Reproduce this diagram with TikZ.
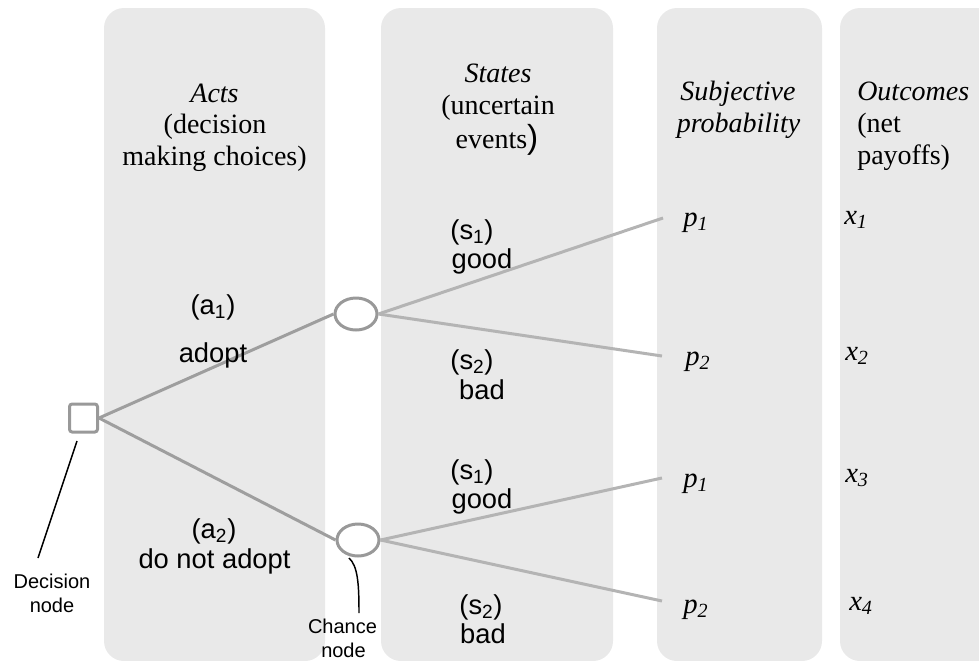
\documentclass[tikz,border=0pt]{standalone}
\usepackage{fontspec}
\setmainfont{Liberation Serif}
\setsansfont{Liberation Sans}
\usetikzlibrary{shapes.geometric}
\definecolor{panelgray}{HTML}{E9E9E9}
\definecolor{actline}{HTML}{9E9E9E}
\definecolor{stateline}{HTML}{B4B4B4}
\definecolor{nodegray}{HTML}{999999}
\begin{document}
\begin{tikzpicture}[x=0.75pt,y=-0.75pt,
  panel/.style={fill=panelgray, rounded corners=15pt},
  head/.style={font=\fontsize{21}{25}\selectfont, anchor=base, inner sep=0pt},
  headl/.style={head, anchor=base west},
  lab/.style={font=\sffamily\fontsize{20.5}{24}\selectfont, inner sep=0pt},
  small/.style={font=\sffamily\fontsize{15}{19}\selectfont, anchor=base, inner sep=0pt},
  val/.style={font=\fontsize{21.5}{24}\selectfont\itshape, anchor=base west, inner sep=0pt},
  decbox/.style={draw=nodegray, line width=2.25pt, fill=white, rounded corners=2pt, minimum size=21pt, inner sep=0pt},
  chance/.style={ellipse, draw=nodegray, line width=2.25pt, fill=white, minimum width=31.5pt, minimum height=24pt, inner sep=0pt},
  actedge/.style={draw=actline, line width=2.25pt},
  stateedge/.style={draw=stateline, line width=2.25pt},
  callout/.style={draw=black, line width=1.1pt}
]
\useasboundingbox (0,0) rectangle (979,661);
\clip (0,0) rectangle (979,661);
% panels
\fill[panel] (104,8) rectangle (325,661);
\fill[panel] (381,8) rectangle (613,661);
\fill[panel] (657,8) rectangle (822,661);
\fill[panel] (840,8) rectangle (1010,661);

% headings
\node[head] (acts1) at (214.5,102) {\textit{Acts}};
\node[head] (acts2) at (215,133.5) {(decision};
\node[head] (acts3) at (214.5,165) {making choices)};
\node[head] (st1) at (498,82) {\textit{States}};
\node[head] (st2) at (498,114) {(uncertain};
\node[head] (st3) at (497,148) {events{\sffamily\fontsize{25}{25}\selectfont)}};
\node[head] (sp1) at (738,100) {\textit{Subjective}};
\node[head] (sp2) at (738.5,132) {\textit{probability}};
\node[headl] (oc1) at (857,100) {\textit{Outcomes}};
\node[headl] (oc2) at (857,132) {(net};
\node[headl] (oc3) at (857,164) {payoffs)};

% tree nodes
\node[decbox] (dec) at (83.5,418) {};
\node[chance] (ch1) at (356,314) {};
\node[chance] (ch2) at (358,540) {};

\coordinate (e1) at (663,218);
\coordinate (e2) at (662,356);
\coordinate (e3) at (662,478);
\coordinate (e4) at (662,601);

\draw[actedge] (dec.east) -- (ch1.west);
\draw[actedge] (dec.east) -- (ch2.west);
\draw[stateedge] (ch1.east) -- (e1);
\draw[stateedge] (ch1.east) -- (e2);
\draw[stateedge] (ch2.east) -- (e3);
\draw[stateedge] (ch2.east) -- (e4);

% act labels
\node[lab] (a1) at (213,307) {(a\textsubscript{1})};
\node[lab] (adopt) at (213,355) {adopt};
\node[lab] (a2) at (214,531) {(a\textsubscript{2})};
\node[lab] (noadopt) at (214.5,561) {do not adopt};

% state labels
\node[lab] (s1a) at (472,232) {(s\textsubscript{1})};
\node[lab] (gooda) at (482,261) {good};
\node[lab] (s2a) at (472,362) {(s\textsubscript{2})};
\node[lab] (bada) at (482,390) {bad};
\node[lab] (s1b) at (472,472) {(s\textsubscript{1})};
\node[lab] (goodb) at (482,501) {good};
\node[lab] (s2b) at (481,607) {(s\textsubscript{2})};
\node[lab] (badb) at (483,634) {bad};

% probabilities
\node[val] (p1a) at (683,226) {p\textsubscript{1}};
\node[val] (p2a) at (685,365) {p\textsubscript{2}};
\node[val] (p1b) at (683,487) {p\textsubscript{1}};
\node[val] (p2b) at (683,613) {p\textsubscript{2}};

% outcomes
\node[val] (x1) at (844,224) {x\textsubscript{1}};
\node[val] (x2) at (845,360) {x\textsubscript{2}};
\node[val] (x3) at (845,482) {x\textsubscript{3}};
\node[val] (x4) at (849,610) {x\textsubscript{4}};

% callouts
\node[small] (declab1) at (52,588) {Decision};
\node[small] (declab2) at (52,612) {node};
\node[small] (chlab1) at (342.5,633) {Chance};
\node[small] (chlab2) at (343.5,657) {node};
\coordinate (dc1) at (77,441);
\coordinate (dc2) at (38,558);
\coordinate (cc1) at (349,558);
\coordinate (cc2) at (359,613);
\draw[callout] (dc1) -- (dc2);
\draw[callout] (cc1) .. controls (358,566) and (359,585) .. (cc2);
\end{tikzpicture}
\end{document}
